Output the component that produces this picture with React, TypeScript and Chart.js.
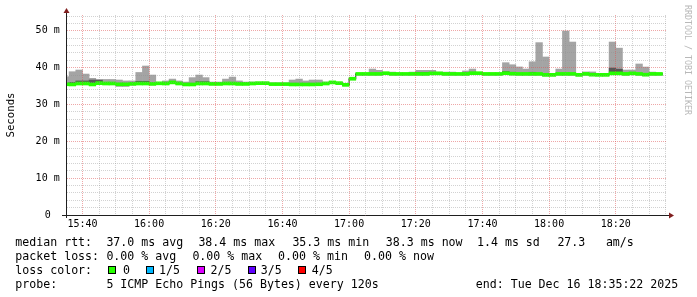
import React, { useEffect, useRef } from "react";
import { Chart, registerables } from "chart.js";

Chart.register(...registerables);

// ---------- data (one value per 120 s probe step; time = start of the step) ----------
const binStart = [
  "15:34","15:36","15:38","15:40","15:42","15:44","15:46","15:48","15:50","15:52","15:54","15:56","15:58",
  "16:00","16:02","16:04","16:06","16:08","16:10","16:12","16:14","16:16","16:18","16:20","16:22","16:24","16:26","16:28",
  "16:30","16:32","16:34","16:36","16:38","16:40","16:42","16:44","16:46","16:48","16:50","16:52","16:54","16:56","16:58",
  "17:00","17:02","17:04","17:06","17:08","17:10","17:12","17:14","17:16","17:18","17:20","17:22","17:24","17:26","17:28",
  "17:30","17:32","17:34","17:36","17:38","17:40","17:42","17:44","17:46","17:48","17:50","17:52","17:54","17:56","17:58",
  "18:00","18:02","18:04","18:06","18:08","18:10","18:12","18:14","18:16","18:18","18:20","18:22","18:24","18:26","18:28",
  "18:30","18:32",
];

// median RTT (ms)
const median = [
  35.5,35.45,35.7,35.7,35.45,35.8,35.7,35.7,35.5,35.5,35.6,35.7,35.7,
  35.6,35.75,35.7,36.0,35.7,35.45,35.45,35.7,35.7,35.6,35.6,35.7,35.7,35.6,35.6,
  35.7,35.8,35.8,35.55,35.55,35.55,35.45,35.45,35.45,35.45,35.5,35.7,36.0,35.8,35.35,
  37.0,38.3,38.3,38.3,38.3,38.5,38.3,38.3,38.3,38.3,38.3,38.3,38.45,38.45,38.3,
  38.3,38.3,38.3,38.5,38.5,38.3,38.3,38.3,38.5,38.35,38.3,38.3,38.3,38.3,38.05,
  38.05,38.3,38.3,38.3,38.05,38.3,38.1,38.05,38.05,38.45,38.45,38.3,38.45,38.3,38.1,
  38.3,38.3,
];

// fastest ping of the 5 (ms)
const pingMin = [
  35.2,35.15,35.4,35.4,35.15,35.5,35.4,35.4,34.9,34.9,35.3,35.4,35.4,
  35.3,35.45,35.4,35.7,35.4,35.15,35.15,35.4,35.4,35.3,35.3,35.4,35.4,35.3,35.3,
  35.4,35.5,35.5,35.25,35.25,35.25,35.15,35.15,35.15,35.15,35.2,35.4,35.7,35.5,35.05,
  36.7,38.0,38.0,38.0,38.0,38.2,38.0,38.0,38.0,38.0,38.0,38.0,38.15,38.15,38.0,
  38.0,38.0,38.0,38.2,38.2,38.0,38.0,38.0,38.2,38.05,38.0,38.0,38.0,38.0,37.75,
  37.75,38.0,38.0,38.0,37.75,38.0,37.8,37.8,37.8,38.15,38.15,38.0,38.15,38.0,37.8,
  38.0,38.0,
];

// 2nd fastest ping (ms)
const pingLow = [
  35.4,35.35,35.6,35.6,35.35,35.7,35.6,35.6,35.4,35.4,35.5,35.6,35.6,
  35.5,35.65,35.6,35.9,35.6,35.35,35.35,35.6,35.6,35.5,35.5,35.6,35.6,35.5,35.5,
  35.6,35.7,35.7,35.45,35.45,35.45,35.35,35.35,35.35,35.35,35.4,35.6,35.9,35.7,35.25,
  36.9,38.2,38.2,38.2,38.2,38.4,38.2,38.2,38.2,38.2,38.2,38.2,38.35,38.35,38.2,
  38.2,38.2,38.2,38.4,38.4,38.2,38.2,38.2,38.4,38.25,38.2,38.2,38.2,38.2,37.95,
  37.95,38.2,38.2,38.2,37.95,38.2,38.0,37.95,37.95,38.35,38.35,38.2,38.35,38.2,38.0,
  38.2,38.2,
];

// 4th fastest ping (ms)
const pingHigh = [
  35.6,36.0,36.4,36.4,36.65,36.6,35.8,35.8,35.6,35.6,35.7,36.3,36.3,
  35.7,35.85,35.8,36.1,35.8,35.55,35.55,36.2,36.2,35.7,35.7,35.8,35.8,35.7,35.7,
  35.8,35.9,35.9,35.65,35.65,35.65,35.55,35.55,35.55,35.55,35.6,35.8,36.1,35.9,35.45,
  37.1,38.4,38.4,38.4,38.4,38.6,38.4,38.4,38.4,38.4,38.75,38.75,38.55,38.55,38.4,
  38.4,38.4,38.4,38.6,38.6,38.4,38.4,38.4,38.95,38.75,38.4,38.4,38.75,38.4,38.15,
  38.15,38.4,38.4,38.4,38.15,38.4,38.2,38.15,38.15,39.9,39.6,38.4,38.55,38.4,38.2,
  38.4,38.4,
];

// slowest ping of the 5 (ms)
const pingMax = [
  37.55,38.9,39.36,38.27,37.1,36.8,36.8,36.8,36.65,36.4,36.4,38.7,40.45,
  38.0,35.95,36.4,36.9,36.4,36.1,37.3,38.0,37.3,36.1,36.1,36.9,37.45,36.4,36.1,
  36.1,35.95,35.95,35.75,35.75,35.75,36.65,36.9,36.4,36.65,36.65,36.1,36.2,36.0,35.55,
  37.15,38.45,38.45,39.63,39.28,38.65,38.8,38.45,38.45,38.8,39.28,39.28,39.28,38.8,38.8,
  38.8,38.45,39.1,39.63,38.65,38.45,38.45,38.45,41.35,40.8,40.2,39.63,41.6,46.8,42.9,
  38.2,39.63,49.95,46.96,38.2,38.85,38.85,38.2,38.2,46.96,45.3,39.36,39.36,41.0,40.17,
  38.8,38.45,
];

const xTickLabels = ["15:40","16:00","16:20","16:40","17:00","17:20","17:40","18:00","18:20"];
const yTickLabels = ["0","10 m","20 m","30 m","40 m","50 m"];

const lossLabels = ["0","1/5","2/5","3/5","4/5"];
const lossColors = ["#26ff00","#00b8ff","#dd00ff","#6000ff","#ff0000"];

const medianRttItems = ["median rtt:","37.0 ms avg","38.4 ms max","35.3 ms min","38.3 ms now","1.4 ms sd","27.3","am/s"];
const packetLossItems = ["packet loss:","0.00 % avg","0.00 % max","0.00 % min","0.00 % now"];
const probeItems = ["probe:","5 ICMP Echo Pings (56 Bytes) every 120s","end: Tue Dec 16 18:35:22 2025"];
const lossColorTitle = "loss color:";
const yAxisTitle = "Seconds";
const watermark = "RRDTOOL / TOBI OETIKER";

const GRAPH_END = "18:35:22";
const GRAPH_SPAN_MIN = 180;
const STEP_MIN = 2;
const Y_MAX = 54.3;

// ---------- styles ----------
const FONT = "'DejaVu Sans Mono', monospace";
const GRID = "rgba(143,143,143,0.4)";
const MGRID = "rgba(222,79,79,0.5)";
const AXIS = "rgb(31,31,31)";
const ARROW = "rgb(128,31,31)";
const BAND_HALF_MS = 0.41;

function toMinutes(t: string) {
  const [h, m, s] = t.split(":").map(Number);
  return (h - 15) * 60 + m + (s || 0) / 60;
}

const axesPlugin = {
  id: "rrdAxes",
  afterDraw(chart: any) {
    const { ctx, chartArea } = chart;
    const { left, right, top, bottom } = chartArea;
    const ax = left - 0.5;
    const ay = bottom + 0.5;
    ctx.save();
    ctx.strokeStyle = AXIS;
    ctx.lineWidth = 1;
    ctx.beginPath();
    ctx.moveTo(left - 5, ay);
    ctx.lineTo(right + 2, ay);
    ctx.moveTo(ax, bottom + 3);
    ctx.lineTo(ax, top - 2);
    ctx.stroke();
    ctx.fillStyle = ARROW;
    ctx.beginPath();
    ctx.moveTo(right + 2, ay - 3);
    ctx.lineTo(right + 7, ay);
    ctx.lineTo(right + 2, ay + 3);
    ctx.closePath();
    ctx.fill();
    ctx.beginPath();
    ctx.moveTo(ax - 3, top - 2);
    ctx.lineTo(ax, top - 7);
    ctx.lineTo(ax + 3, top - 2);
    ctx.closePath();
    ctx.fill();
    ctx.restore();
  },
};

function Txt(props: { x: number; y: number; text: string }) {
  return (
    <div
      style={{
        position: "absolute",
        left: props.x,
        top: props.y,
        whiteSpace: "pre",
        font: `11.6px ${FONT}`,
        lineHeight: "14px",
        color: "#000",
      }}
    >
      {props.text}
    </div>
  );
}

export default function App() {
  const ref = useRef<HTMLCanvasElement>(null);

  useEffect(() => {
    const xEnd = toMinutes(GRAPH_END);
    const xStart = xEnd - GRAPH_SPAN_MIN;
    const centers = binStart.map((t) => toMinutes(t) + STEP_MIN / 2);
    const majorX = xTickLabels.map(toMinutes);
    const majorY = yTickLabels.map((l) => parseFloat(l));
    const gridX: number[] = [];
    for (let v = Math.ceil(xStart / 5) * 5; v <= xEnd; v += 5) gridX.push(v);
    const gridY: number[] = [];
    for (let v = 0; v <= Y_MAX; v += 2) gridY.push(v);
    const n = binStart.length;
    const isMajor = (list: number[], v: number) => list.some((m) => Math.abs(m - v) < 1e-6);
    const gridXColors = gridX.map((v) => (isMajor(majorX, v) ? MGRID : GRID));
    const gridYColors = gridY.map((v) => (isMajor(majorY, v) ? MGRID : GRID));

    const barCommon = {
      type: "bar" as const,
      grouped: false,
      barPercentage: 1,
      categoryPercentage: 1,
      borderWidth: 0,
    };

    const chart = new Chart(ref.current as HTMLCanvasElement, {
      type: "bar",
      data: {
        datasets: [
          {
            ...barCommon,
            label: "loss 0",
            data: centers.map((x, i) => ({ x, y: [median[i] - BAND_HALF_MS, median[i] + BAND_HALF_MS] })),
            backgroundColor: lossColors[0],
            order: 1,
          } as any,
          {
            type: "line",
            label: "median",
            data: [
              ...binStart.map((t, i) => ({ x: toMinutes(t), y: median[i] })),
              { x: toMinutes(binStart[n - 1]) + STEP_MIN, y: median[n - 1] },
            ],
            stepped: "before",
            borderColor: "#202020",
            borderWidth: 1,
            pointRadius: 0,
            order: 2,
          } as any,
          {
            ...barCommon,
            label: "smoke inner",
            data: centers.map((x, i) => ({ x, y: [pingLow[i], pingHigh[i]] })),
            backgroundColor: "#585858",
            order: 3,
          } as any,
          {
            ...barCommon,
            label: "smoke outer",
            data: centers.map((x, i) => ({ x, y: [pingMin[i], pingMax[i]] })),
            backgroundColor: "#a4a4a4",
            order: 4,
          } as any,
        ],
      },
      options: {
        responsive: false,
        maintainAspectRatio: false,
        animation: false,
        devicePixelRatio: 1,
        events: [],
        layout: { padding: { left: 0, right: 30, top: 15, bottom: 0 } },
        plugins: { legend: { display: false }, tooltip: { enabled: false } },
        scales: {
          x: {
            type: "linear",
            min: xStart,
            max: xEnd,
            offset: false,
            afterBuildTicks: (s: any) => {
              s.ticks = gridX.map((value) => ({ value }));
            },
            afterFit: (s: any) => {
              s.height = 82;
            },
            grid: {
              offset: false,
              drawTicks: false,
              z: 1,
              lineWidth: 1,
              color: gridXColors,
            },
            border: { display: false, dash: [1, 1] },
            ticks: {
              autoSkip: false,
              maxRotation: 0,
              minRotation: 0,
              padding: 3,
              color: "#000",
              font: { family: FONT, size: 10 },
              callback: (v: any) => {
                const idx = majorX.findIndex((m) => Math.abs(m - v) < 1e-6);
                return idx >= 0 ? xTickLabels[idx] : "";
              },
            },
          },
          y: {
            type: "linear",
            min: 0,
            max: Y_MAX,
            afterBuildTicks: (s: any) => {
              s.ticks = gridY.map((value) => ({ value }));
            },
            afterFit: (s: any) => {
              s.width = 67;
            },
            grid: {
              drawTicks: false,
              z: 1,
              lineWidth: 1,
              color: gridYColors,
            },
            border: { display: false, dash: [1, 1] },
            ticks: {
              autoSkip: false,
              crossAlign: "center",
              padding: 7.3,
              color: "#000",
              font: { family: FONT, size: 10 },
              callback: (v: any) => {
                const idx = majorY.findIndex((m) => Math.abs(m - v) < 1e-6);
                return idx >= 0 ? yTickLabels[idx] : "";
              },
            },
            title: {
              display: true,
              text: yAxisTitle,
              color: "#000",
              font: { family: FONT, size: 10.7, lineHeight: 1 },
              padding: { top: 5.5, bottom: 0 },
            },
          },
        },
      } as any,
      plugins: [axesPlugin],
    });
    return () => chart.destroy();
  }, []);

  const boxLefts = [108, 146, 197, 248, 298];
  const lossLabelLefts = [123, 159, 210.5, 260.7, 311.7];
  const row1X = [15.3, 106.4, 198.4, 292.4, 385.8, 477, 557.4, 605.9];
  const row2X = [15.3, 106.4, 192.4, 278.1, 364.1];
  const row4X = [15.3, 106.4, 475.8];

  return (
    <div style={{ position: "absolute", left: 0, top: 0, width: 697, height: 297, background: "#fff", overflow: "hidden" }}>
      <canvas ref={ref} width={697} height={297} style={{ position: "absolute", left: 0, top: 0, width: 697, height: 297 }} />
      <div
        style={{
          position: "absolute",
          left: 683.6,
          top: 4.5,
          writingMode: "vertical-rl",
          font: `8.3px ${FONT}`,
          lineHeight: "8.3px",
          color: "#b8b8b8",
          whiteSpace: "pre",
        }}
      >
        {watermark}
      </div>
      {medianRttItems.map((t, i) => (
        <Txt key={"r1" + i} x={row1X[i]} y={235} text={t} />
      ))}
      {packetLossItems.map((t, i) => (
        <Txt key={"r2" + i} x={row2X[i]} y={249} text={t} />
      ))}
      <Txt x={15.3} y={263} text={lossColorTitle} />
      {lossLabels.map((t, i) => (
        <React.Fragment key={"lc" + i}>
          <div
            style={{
              position: "absolute",
              left: boxLefts[i],
              top: 266,
              width: 8,
              height: 8,
              boxSizing: "border-box",
              border: "1px solid #000",
              background: lossColors[i],
            }}
          />
          <Txt x={lossLabelLefts[i]} y={263} text={t} />
        </React.Fragment>
      ))}
      {probeItems.map((t, i) => (
        <Txt key={"r4" + i} x={row4X[i]} y={277} text={t} />
      ))}
    </div>
  );
}
